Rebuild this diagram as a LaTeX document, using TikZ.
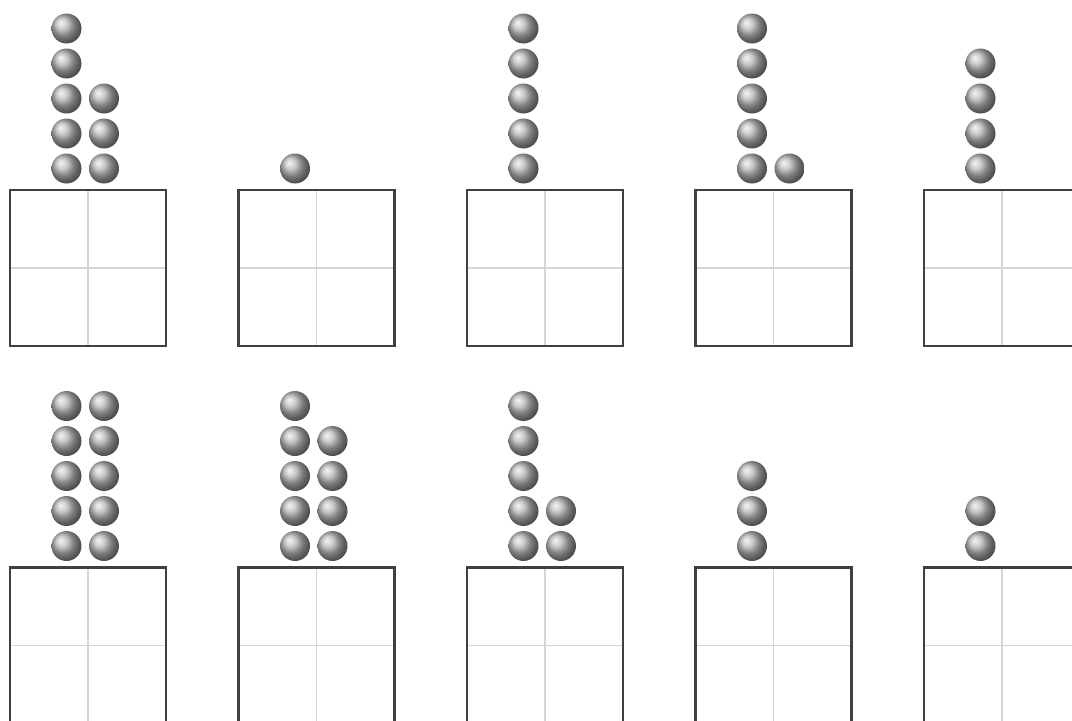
\documentclass[tikz,border=0pt]{standalone}
\usetikzlibrary{positioning}
\begin{document}
\begin{tikzpicture}[x=0.75pt,y=-0.75pt,
frame/.style={draw=black!75,line width=1.6pt},
cross/.style={draw=black!16,line width=1.4pt},
slot/.style={minimum size=117pt,inner sep=0pt,outer sep=0pt},
ball/.style={circle,shading=ball,ball color=black!28,minimum size=22.5pt,inner sep=0pt}]
\useasboundingbox (0,0) rectangle (1072,721);
% row / column / balls in left column / balls in right column
\foreach \row/\col/\na/\nb in {1/1/5/3,1/2/1/0,1/3/5/0,1/4/5/1,1/5/4/0,
                               2/1/5/5,2/2/5/4,2/3/5/2,2/4/3/0,2/5/2/0} {
  \pgfmathsetmacro\bx{10+228.5*(\col-1)}
  \pgfmathsetmacro\by{190+377.5*(\row-1)}
  \node[slot,anchor=north west] (box-\row-\col) at (\bx,\by) {};
  \draw[cross] (box-\row-\col.north) -- (box-\row-\col.south);
  \draw[cross] (box-\row-\col.west) -- (box-\row-\col.east);
  \draw[frame] (box-\row-\col.north west) rectangle (box-\row-\col.south east);
  \foreach \k in {1,...,\na}
    \node[ball] (ball-\row-\col-a\k) at (\bx+56.5,\by-21.5-35*\k+35) {};
  \ifnum\nb>0
    \foreach \k in {1,...,\nb}
      \node[ball] (ball-\row-\col-b\k) at (\bx+94,\by-21.5-35*\k+35) {};
  \fi
}
\end{tikzpicture}
\end{document}
